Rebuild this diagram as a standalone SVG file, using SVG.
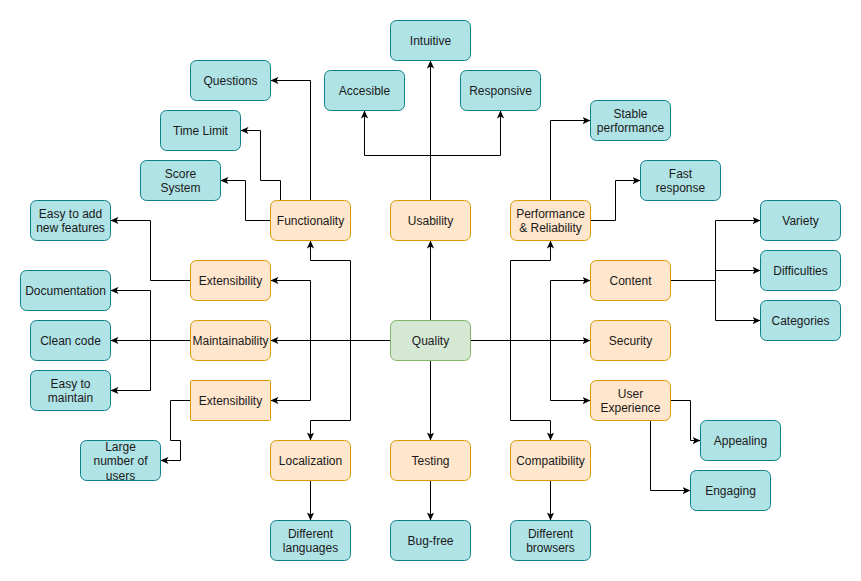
<svg xmlns="http://www.w3.org/2000/svg" width="861" height="581" viewBox="0 0 861 581">
<style>
.t{fill:#b0e3e6;stroke:#0e8088;stroke-width:1}
.o{fill:#ffe6cc;stroke:#d79b00;stroke-width:1}
.g{fill:#d5e8d4;stroke:#82b366;stroke-width:1}
text{font-family:"Liberation Sans",Arial,sans-serif;font-size:12px;fill:#1a1a1a;text-anchor:middle}
.e path{fill:none;stroke:#000;stroke-width:1;marker-end:url(#a)}
</style>
<defs>
<marker id="a" viewBox="0 0 10 10" refX="10" refY="5" markerWidth="8" markerHeight="8" markerUnits="userSpaceOnUse" orient="auto">
<path d="M0,0.5 L10,5 L0,9.5 L2.5,5 Z" fill="#000" stroke="none"/>
</marker>
</defs>
<rect width="861" height="581" fill="#fff"/>
<g transform="translate(0.5,0.5)">
<g class="e" id="connectors">
<path d="M430,320 V240"/>
<path d="M430,360 V440"/>
<path d="M390,340 H270"/>
<path d="M470,340 H590"/>
<path d="M390,340 H350 V260 H310 V240"/>
<path d="M390,340 H350 V420 H310 V440"/>
<path d="M390,340 H310 V280 H270"/>
<path d="M390,340 H310 V400 H270"/>
<path d="M470,340 H510 V260 H550 V240"/>
<path d="M470,340 H510 V420 H550 V440"/>
<path d="M470,340 H550 V280 H590"/>
<path d="M470,340 H550 V400 H590"/>
<path d="M430,200 V60"/>
<path d="M430,200 V155 H364 V110"/>
<path d="M430,200 V155 H500 V110"/>
<path d="M310,200 V80 H270"/>
<path d="M280,200 V180 H260 V130 H240"/>
<path d="M270,220 H245 V180 H220"/>
<path d="M550,200 V120 H590"/>
<path d="M590,220 H615 V180 H640"/>
<path d="M670,280 H715 V220 H760"/>
<path d="M670,280 H715 V270 H760"/>
<path d="M670,280 H715 V320 H760"/>
<path d="M670,400 H690 V440 H700"/>
<path d="M650,420 V490 H690"/>
<path d="M190,280 H150 V220 H110"/>
<path d="M190,340 H110"/>
<path d="M190,340 H150 V290 H110"/>
<path d="M190,340 H150 V390 H110"/>
<path d="M190,400 H170 V440 H180 V460 H160"/>
<path d="M310,480 V520"/>
<path d="M430,480 V520"/>
<path d="M550,480 V520"/>
</g>
<g id="quality"><rect class="g" x="390" y="320" width="80" height="40" rx="6"/><text x="430" y="344">Quality</text></g>
<g id="usability"><rect class="o" x="390" y="200" width="80" height="40" rx="6"/><text x="430" y="224">Usability</text></g>
<g id="testing"><rect class="o" x="390" y="440" width="80" height="40" rx="6"/><text x="430" y="464">Testing</text></g>
<g id="functionality"><rect class="o" x="270" y="200" width="80" height="40" rx="6"/><text x="310" y="224">Functionality</text></g>
<g id="localization"><rect class="o" x="270" y="440" width="80" height="40" rx="6"/><text x="310" y="464">Localization</text></g>
<g id="extensibility1"><rect class="o" x="190" y="260" width="80" height="40" rx="6"/><text x="230" y="284">Extensibility</text></g>
<g id="maintainability"><rect class="o" x="190" y="320" width="80" height="40" rx="6"/><text x="230" y="344">Maintainability</text></g>
<g id="extensibility2"><rect class="o" x="190" y="380" width="80" height="40" rx="1"/><text x="230" y="404">Extensibility</text></g>
<g id="performance"><rect class="o" x="510" y="200" width="80" height="40" rx="6"/><text x="550" y="217">Performance</text><text x="550" y="231">&amp; Reliability</text></g>
<g id="compatibility"><rect class="o" x="510" y="440" width="80" height="40" rx="6"/><text x="550" y="464">Compatibility</text></g>
<g id="content"><rect class="o" x="590" y="260" width="80" height="40" rx="6"/><text x="630" y="284">Content</text></g>
<g id="security"><rect class="o" x="590" y="320" width="80" height="40" rx="6"/><text x="630" y="344">Security</text></g>
<g id="userexperience"><rect class="o" x="590" y="380" width="80" height="40" rx="6"/><text x="630" y="397">User</text><text x="630" y="411">Experience</text></g>
<g id="intuitive"><rect class="t" x="390" y="20" width="80" height="40" rx="6"/><text x="430" y="44">Intuitive</text></g>
<g id="accesible"><rect class="t" x="324" y="70" width="80" height="40" rx="6"/><text x="364" y="94">Accesible</text></g>
<g id="responsive"><rect class="t" x="460" y="70" width="80" height="40" rx="6"/><text x="500" y="94">Responsive</text></g>
<g id="questions"><rect class="t" x="190" y="60" width="80" height="40" rx="6"/><text x="230" y="84">Questions</text></g>
<g id="timelimit"><rect class="t" x="160" y="110" width="80" height="40" rx="6"/><text x="200" y="134">Time Limit</text></g>
<g id="scoresystem"><rect class="t" x="140" y="160" width="80" height="40" rx="6"/><text x="180" y="177">Score</text><text x="180" y="191">System</text></g>
<g id="stable"><rect class="t" x="590" y="100" width="80" height="40" rx="6"/><text x="630" y="117">Stable</text><text x="630" y="131">performance</text></g>
<g id="fast"><rect class="t" x="640" y="160" width="80" height="40" rx="6"/><text x="680" y="177">Fast</text><text x="680" y="191">response</text></g>
<g id="variety"><rect class="t" x="760" y="200" width="80" height="40" rx="6"/><text x="800" y="224">Variety</text></g>
<g id="difficulties"><rect class="t" x="760" y="250" width="80" height="40" rx="6"/><text x="800" y="274">Difficulties</text></g>
<g id="categories"><rect class="t" x="760" y="300" width="80" height="40" rx="6"/><text x="800" y="324">Categories</text></g>
<g id="appealing"><rect class="t" x="700" y="420" width="80" height="40" rx="6"/><text x="740" y="444">Appealing</text></g>
<g id="engaging"><rect class="t" x="690" y="470" width="80" height="40" rx="6"/><text x="730" y="494">Engaging</text></g>
<g id="browsers"><rect class="t" x="510" y="520" width="80" height="40" rx="6"/><text x="550" y="537">Different</text><text x="550" y="551">browsers</text></g>
<g id="bugfree"><rect class="t" x="390" y="520" width="80" height="40" rx="6"/><text x="430" y="544">Bug-free</text></g>
<g id="languages"><rect class="t" x="270" y="520" width="80" height="40" rx="6"/><text x="310" y="537">Different</text><text x="310" y="551">languages</text></g>
<g id="easyadd"><rect class="t" x="30" y="200" width="80" height="40" rx="6"/><text x="70" y="217">Easy to add</text><text x="70" y="231">new features</text></g>
<g id="documentation"><rect class="t" x="20" y="270" width="90" height="40" rx="6"/><text x="65" y="294">Documentation</text></g>
<g id="cleancode"><rect class="t" x="30" y="320" width="80" height="40" rx="6"/><text x="70" y="344">Clean code</text></g>
<g id="easymaintain"><rect class="t" x="30" y="370" width="80" height="40" rx="6"/><text x="70" y="387">Easy to</text><text x="70" y="401">maintain</text></g>
<g id="largeusers"><rect class="t" x="80" y="440" width="80" height="40" rx="6"/><text x="120" y="450">Large</text><text x="120" y="464">number of</text><text x="120" y="479">users</text></g>
</g>
</svg>
